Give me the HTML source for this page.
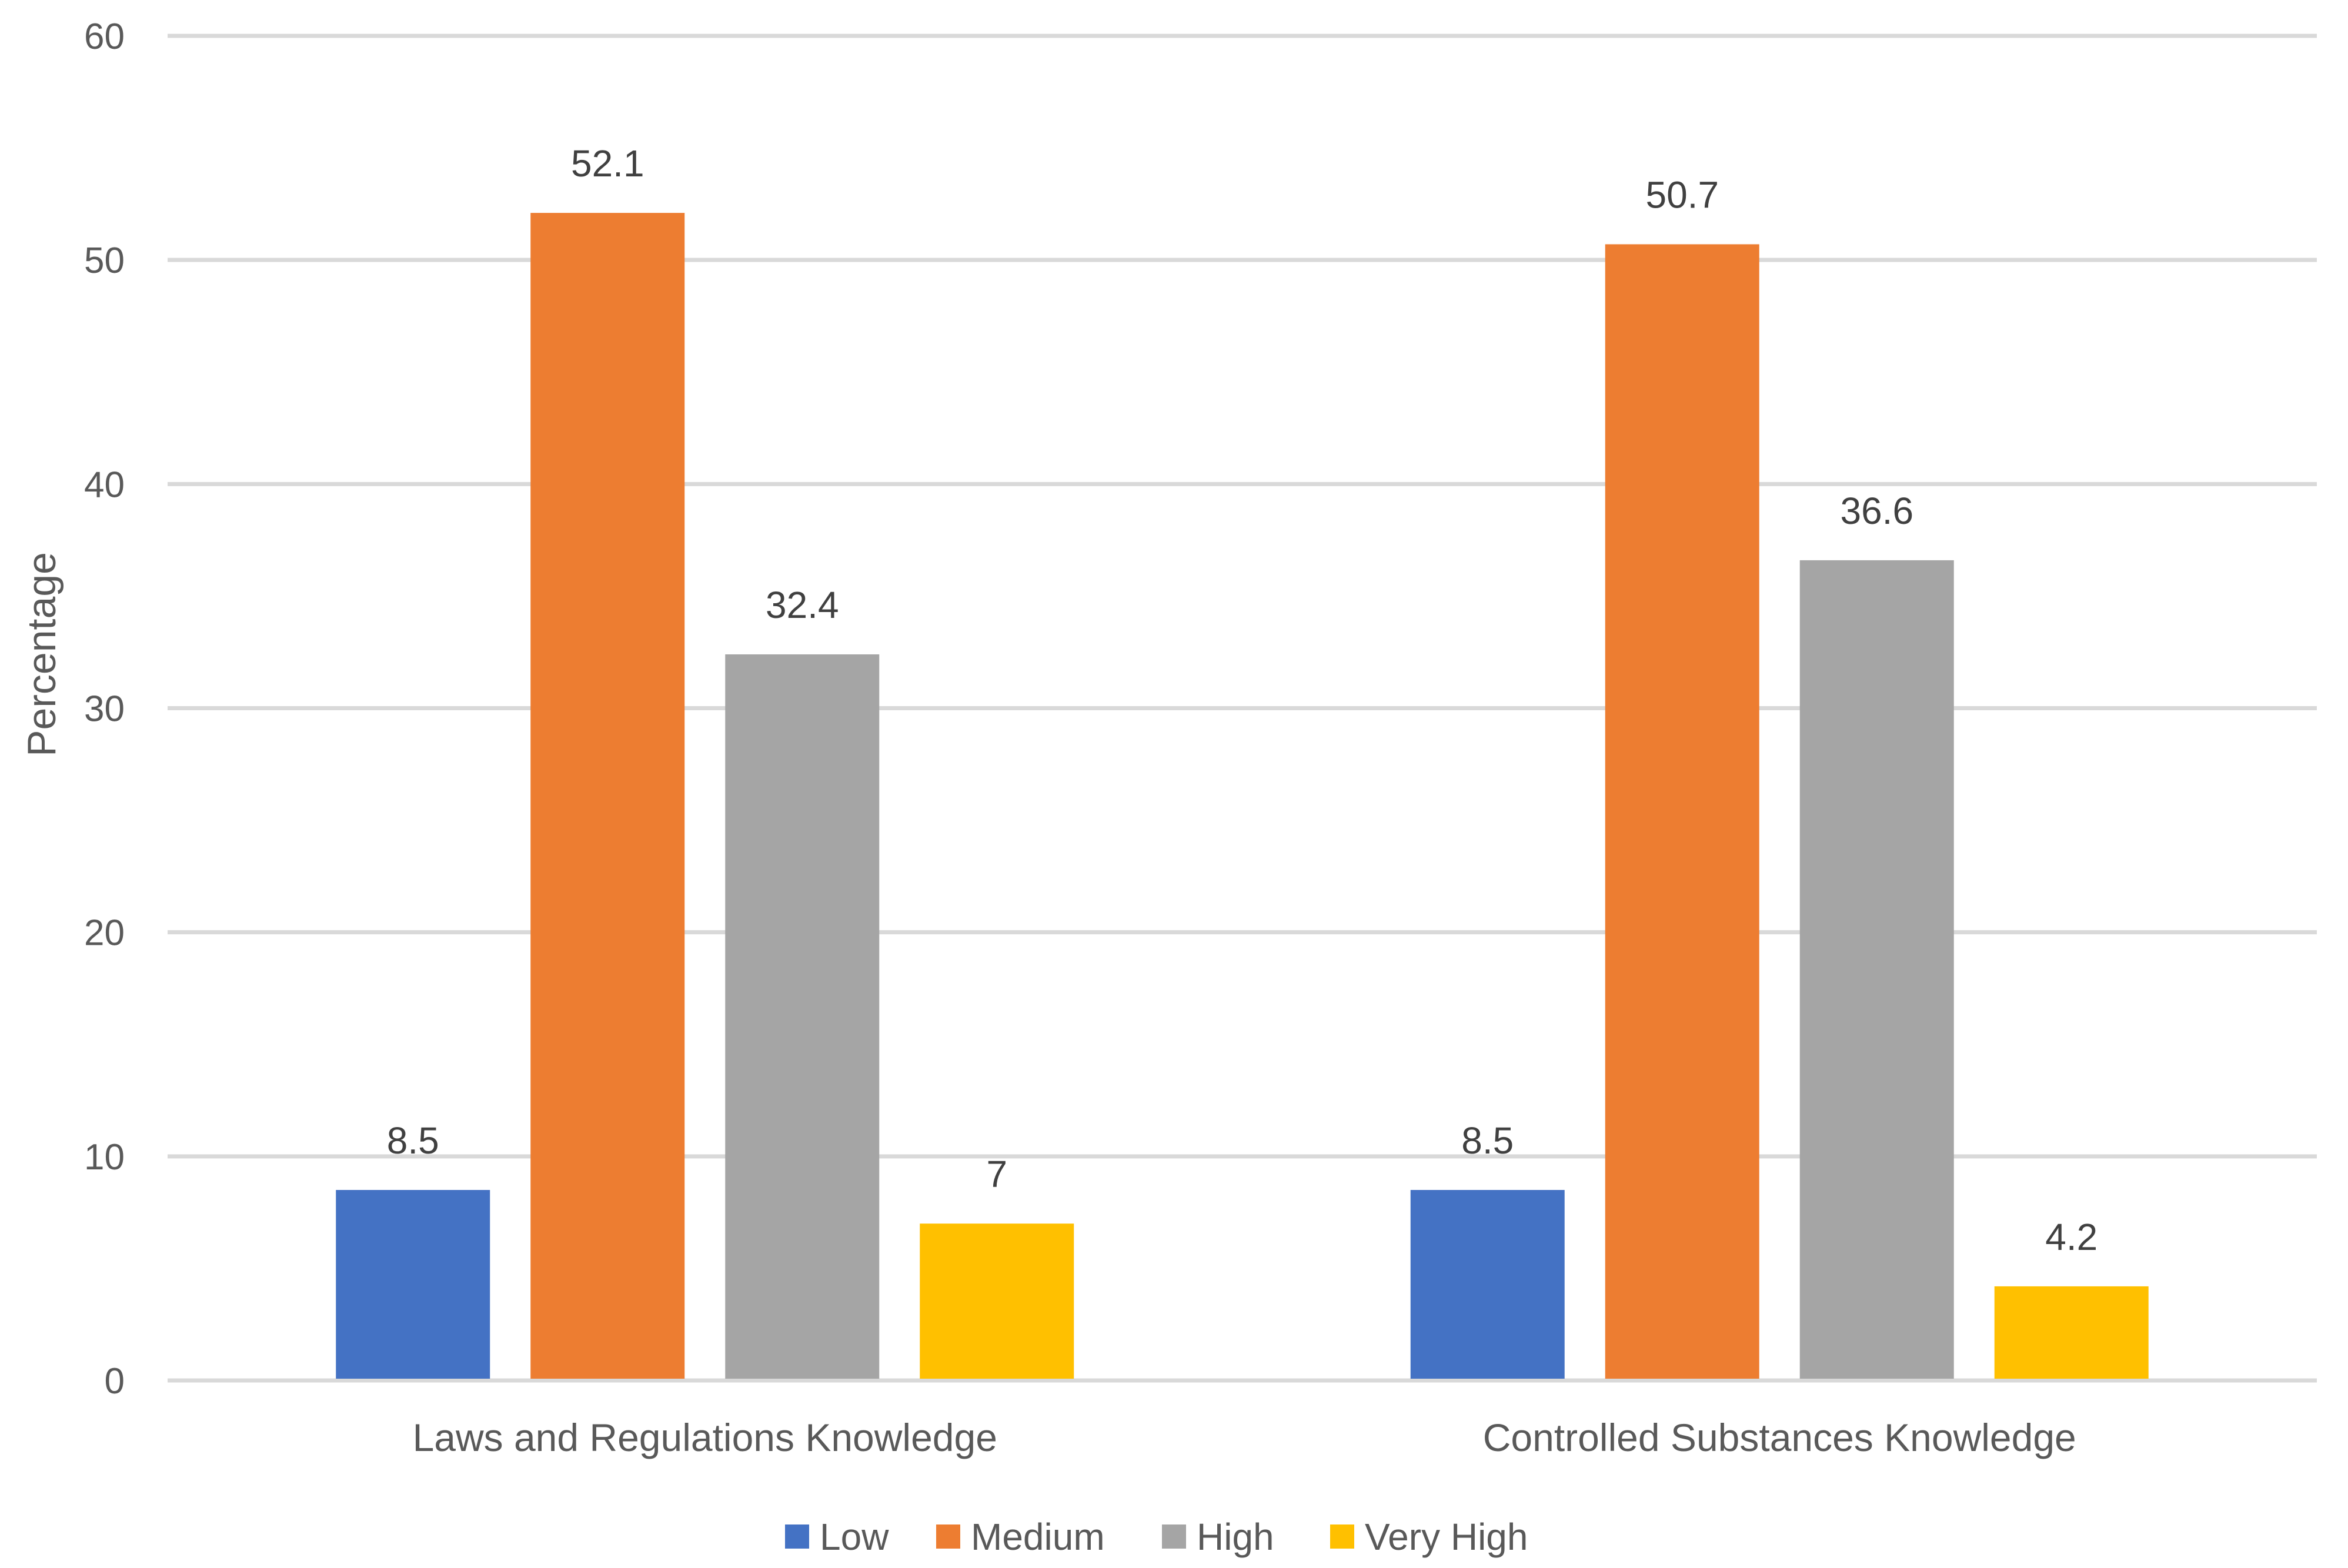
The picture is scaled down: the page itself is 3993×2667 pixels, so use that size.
<!DOCTYPE html>
<html><head><meta charset="utf-8"><style>
html,body{margin:0;padding:0;background:#fff;}
svg{display:block;font-family:"Liberation Sans",sans-serif;}
</style></head><body>
<svg id="chart" width="3993" height="2667" viewBox="0 0 3993 2667"></svg>
<script>
const categories = ["Laws and Regulations Knowledge", "Controlled Substances Knowledge"];
const seriesNames = ["Low", "Medium", "High", "Very High"];
const low = [8.5, 8.5];
const medium = [52.1, 50.7];
const high = [32.4, 36.6];
const veryHigh = [7, 4.2];
const yTicks = [0, 10, 20, 30, 40, 50, 60];
const colors = ["#4472C4", "#ED7D31", "#A5A5A5", "#FFC000"];
const series = [low, medium, high, veryHigh];

const NS = "http://www.w3.org/2000/svg";
const svg = document.getElementById("chart");
const plotL = 285, plotR = 3940, y0 = 2348, yTop = 61, yMax = 60;
const y = v => y0 - (v / yMax) * (y0 - yTop);
const catW = (plotR - plotL) / categories.length;
const barW = 262, gap = 69;
const groupW = series.length * barW + (series.length - 1) * gap;
const xBar = (c, s) => plotL + c * catW + (catW - groupW) / 2 + s * (barW + gap);

function mk(tag, attrs, text) {
  const e = document.createElementNS(NS, tag);
  for (const k in attrs) e.setAttribute(k, attrs[k]);
  if (text !== undefined) e.textContent = text;
  svg.appendChild(e);
  return e;
}

yTicks.forEach(t => {
  const g = mk("line", {x1: plotL, x2: plotR, y1: y(t), y2: y(t), stroke: "#d9d9d9", "stroke-width": 7});
  
  
  const l = mk("text", {x: 212, y: y(t) + 22, "text-anchor": "end", "font-size": 62, fill: "#595959"}, String(t));
  
  
});

series.forEach((vals, s) => {
  vals.forEach((v, c) => {
    const x = xBar(c, s);
    const r = mk("rect", {x: x, y: y(v), width: barW, height: y0 - y(v) - 3, fill: colors[s]});
    
    
    const t = mk("text", {x: x + barW / 2, y: y(v) - 62, "text-anchor": "middle", "font-size": 64, fill: "#404040"}, String(v));
    
    
  });
});

categories.forEach((cat, c) => {
  const t = mk("text", {x: plotL + c * catW + catW / 2, y: 2468, "text-anchor": "middle", "font-size": 66, fill: "#595959"}, cat);
  
  
});

const yt = mk("text", {x: 0, y: 0, transform: "translate(94,1113) rotate(-90)", "text-anchor": "middle", "font-size": 68, fill: "#595959"}, "Percentage");



const legX = [1335, 1592, 1976, 2262];
seriesNames.forEach((n, i) => {
  const sq = mk("rect", {x: legX[i], y: 2593, width: 41, height: 41, fill: colors[i]});
  
  
  const t = mk("text", {x: legX[i] + 59, y: 2636, "font-size": 64, fill: "#595959"}, n);
  
  
});
</script>
</body></html>
